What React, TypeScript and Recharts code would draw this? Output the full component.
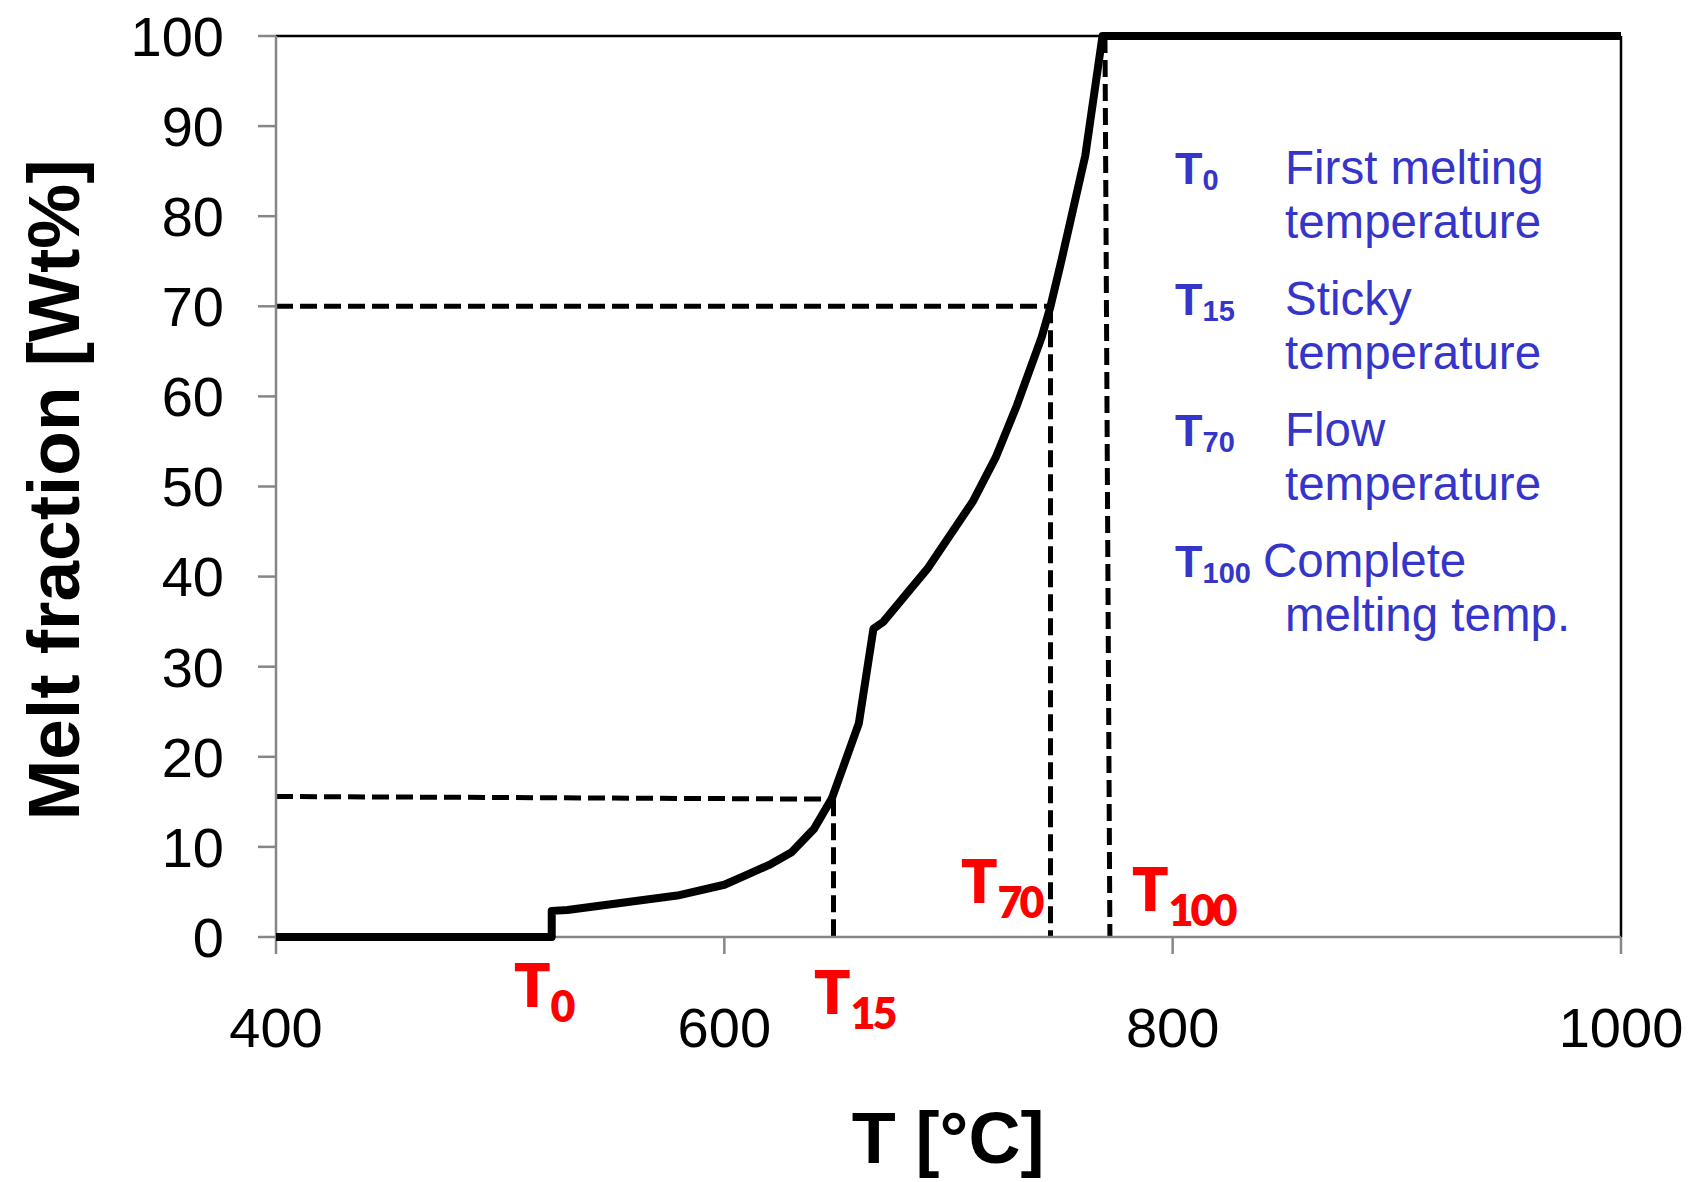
import React from 'react';
import { LineChart, Line, XAxis, YAxis, ReferenceLine } from 'recharts';

// ---- data ----
const temperatures = [400, 523, 523, 530, 579, 600, 610, 620, 630, 640, 648, 660, 666.5, 671, 691, 711, 721, 730.5, 741.6, 745.5, 750.3, 761, 768.7, 1000];
const meltFraction = [0, 0, 2.9, 3, 4.6, 5.8, 6.9, 8, 9.4, 12, 15.4, 23.7, 34.2, 35, 41, 48.4, 53.2, 59, 66.6, 70, 75, 86.7, 100, 100];

const xTicks = [400, 600, 800, 1000];
const yTicks = [0, 10, 20, 30, 40, 50, 60, 70, 80, 90, 100];

// characteristic temperatures
const t15Temp = 648.7;
const t15MeltStart = 15.6; // dashed guide, left end
const t15MeltEnd = 15.3;   // dashed guide, right end
const t70Temp = 745.5;
const t70Melt = 70;
const t100TempTop = 769.8;
const t100TempBottom = 772;

const legendEntries = [
  { sub: '0', lines: ['First melting', 'temperature'] },
  { sub: '15', lines: ['Sticky', 'temperature'] },
  { sub: '70', lines: ['Flow', 'temperature'] },
  { sub: '100', lines: ['Complete', 'melting temp.'] },
];

const data = temperatures.map((t, i) => ({ t, m: meltFraction[i] }));

const W = 1701;
const H = 1182;
const AXIS_GREY = '#868686';
const BLUE = '#3535C9';
const RED = '#FF0000';
const ARIAL = '"Liberation Sans", Arial, sans-serif';
const CALIBRI = 'Lato, "Open Sans", sans-serif';

const dash = { stroke: '#000', strokeWidth: 5, strokeDasharray: '17 7' };

function RedLabel({ x, y, sub }: { x: number; y: number; sub: string }) {
  return (
    <text x={x} y={y} fill={RED} fontFamily={CALIBRI} fontWeight={800} fontSize={60}>
      T
      <tspan dy={15} fontSize={43} letterSpacing={-3}>{sub}</tspan>
    </text>
  );
}

export default function App() {
  const legendTop = [184, 315, 446, 577];
  const lineProps: any = { zIndex: 2000 };
  return (
    <div style={{ position: 'absolute', left: 0, top: 0, width: W, height: H, background: '#fff' }}>
      <LineChart width={W} height={H} data={data} margin={{ top: 36, right: 80, bottom: 0, left: 0 }}>
        <XAxis
          type="number"
          dataKey="t"
          domain={[400, 1000]}
          ticks={xTicks}
          height={245}
          tickSize={17}
          tickMargin={53}
          axisLine={{ stroke: AXIS_GREY, strokeWidth: 2.5 }}
          tickLine={{ stroke: AXIS_GREY, strokeWidth: 2.5 }}
          tick={{ fontSize: 56, fill: '#000', fontFamily: ARIAL }}
        />
        <YAxis
          type="number"
          domain={[0, 100]}
          ticks={yTicks}
          width={276}
          tickSize={18}
          tickMargin={34}
          axisLine={{ stroke: AXIS_GREY, strokeWidth: 2.5 }}
          tickLine={{ stroke: AXIS_GREY, strokeWidth: 2.5 }}
          tick={{ fontSize: 56, fill: '#000', fontFamily: ARIAL }}
        />
        <ReferenceLine y={100} stroke="#000" strokeWidth={2.5} />
        <ReferenceLine x={1000} stroke="#000" strokeWidth={2.5} />
        <ReferenceLine segment={[{ x: 400, y: t15MeltStart }, { x: t15Temp, y: t15MeltEnd }]} {...dash} />
        <ReferenceLine segment={[{ x: t15Temp, y: t15MeltEnd }, { x: t15Temp, y: 0 }]} {...dash} />
        <ReferenceLine segment={[{ x: 400, y: t70Melt }, { x: t70Temp, y: t70Melt }]} {...dash} />
        <ReferenceLine segment={[{ x: t70Temp, y: t70Melt }, { x: t70Temp, y: 0 }]} {...dash} />
        <ReferenceLine segment={[{ x: t100TempTop, y: 100 }, { x: t100TempBottom, y: 0 }]} {...dash} />
        <Line
          type="linear"
          dataKey="m"
          stroke="#000"
          strokeWidth={8}
          dot={false}
          activeDot={false}
          isAnimationActive={false}
          strokeLinejoin="round"
          {...lineProps}
        />
      </LineChart>
      <svg
        width={W}
        height={H}
        style={{ position: 'absolute', left: 0, top: 0, pointerEvents: 'none' }}
      >
        <text
          x={79}
          y={490}
          transform="rotate(-90 79 490)"
          textAnchor="middle"
          fontFamily={ARIAL}
          fontWeight={700}
          fontSize={73}
          fill="#000"
        >
          Melt fraction [Wt%]
        </text>
        <text x={948} y={1163} textAnchor="middle" fontFamily={ARIAL} fontWeight={700} fontSize={72} fill="#000">
          T [°C]
        </text>

        <RedLabel x={514} y={1007} sub="0" />
        <RedLabel x={814} y={1014} sub="15" />
        <RedLabel x={961} y={902.5} sub="70" />
        <RedLabel x={1132} y={910.7} sub="100" />

        {legendEntries.map((e, i) => (
          <g key={e.sub} fill={BLUE} fontFamily={ARIAL}>
            <text x={1175} y={legendTop[i]} fontWeight={700} fontSize={45}>
              T<tspan dy={6} fontSize={29}>{e.sub}</tspan>
            </text>
            <text x={i === 3 ? 1263 : 1285} y={legendTop[i]} fontSize={47.5}>
              {e.lines[0]}
            </text>
            <text x={1285} y={legendTop[i] + 54} fontSize={47.5}>
              {e.lines[1]}
            </text>
          </g>
        ))}
      </svg>
    </div>
  );
}
